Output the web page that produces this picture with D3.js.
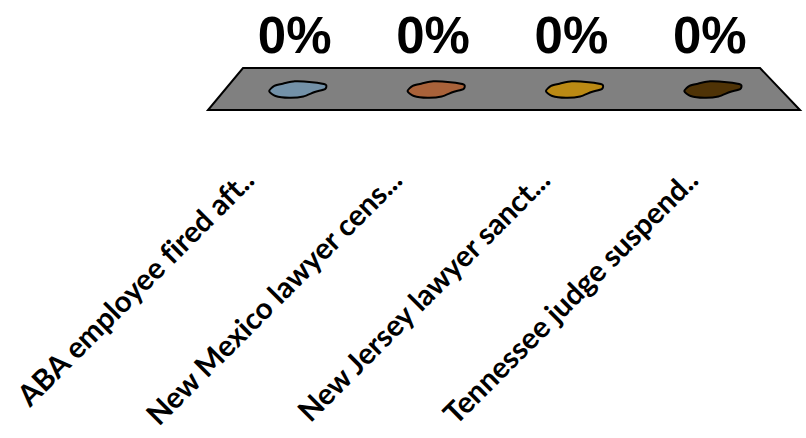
<!DOCTYPE html>
<html><head><meta charset="utf-8">
<script src="https://cdn.jsdelivr.net/npm/d3@7"></script>
<style>html,body{margin:0;padding:0;background:#fff;}svg{display:block;}</style>
</head><body>
<svg id="c" width="806" height="438"></svg>
<script>
const categories = ["ABA employee fired aft..", "New Mexico lawyer cens...", "New Jersey lawyer sanct...", "Tennessee judge suspend.."];
const values = [0, 0, 0, 0];
const valueLabels = ["0%", "0%", "0%", "0%"];
const colors = ["#7391A8", "#A9623A", "#BB8A14", "#4F3306"];

const svg = d3.select("#c");
// floor geometry (perspective trapezoid)
const floorTop = {y: 68, x0: 243, x1: 760};
const floorBot = {y: 110, x0: 208, x1: 800};
const midY = (floorTop.y + floorBot.y) / 2 + 0.5;
const midX0 = (floorTop.x0 + floorBot.x0) / 2, midX1 = (floorTop.x1 + floorBot.x1) / 2;

svg.append("path")
  .attr("d", `M${floorTop.x0},${floorTop.y}L${floorTop.x1},${floorTop.y}L${floorBot.x1},${floorBot.y}L${floorBot.x0},${floorBot.y}Z`)
  .attr("fill", "#808080").attr("stroke", "#000").attr("stroke-width", 2).attr("stroke-linejoin", "miter");

const xMid = d3.scaleBand().domain(categories).range([midX0 + 3, midX1 + 2]);
const xBot = d3.scaleBand().domain(categories).range([floorBot.x0, floorBot.x1]);
const y = d3.scaleLinear().domain([0, 1]).range([midY, midY - 60]);

// blob outline template (unit shape)
const blob = [[-1,0.2],[-0.82,-0.45],[-0.5,-0.72],[-0.1,-0.98],[0.5,-0.88],[0.98,-0.6],[0.96,-0.05],[0.6,0.3],[0.2,0.85],[-0.3,1],[-0.78,0.78]];
const rx = 28.5, ry = 8.3;
const line = d3.line().curve(d3.curveCardinalClosed.tension(0.3));

const g = svg.append("g");
categories.forEach((c, i) => {
  const cx = xMid(c) + xMid.bandwidth() / 2;
  const top = y(values[i]);
  g.append("path")
    .attr("d", line(blob.map(p => [cx + p[0] * rx, top + p[1] * ry])))
    .attr("fill", colors[i]).attr("stroke", "#000").attr("stroke-width", 2);
  svg.append("text")
    .attr("x", cx - 3).attr("y", 53)
    .attr("text-anchor", "middle")
    .attr("font-family", "Liberation Sans, Arial, sans-serif")
    .attr("font-weight", "bold").attr("font-size", 51)
    .text(valueLabels[i]);
  const lx = xBot(c) + xBot.bandwidth() / 2 - 26, ly = 182;
  svg.append("text")
    .attr("transform", `translate(${lx},${ly}) rotate(-45)`)
    .attr("text-anchor", "end")
    .attr("font-family", "Lato, 'Open Sans', sans-serif")
    .attr("font-weight", "bold").attr("font-size", 29.5)
    .style("font-variant-ligatures", "none")
    .text(c);
});
</script>
</body></html>
